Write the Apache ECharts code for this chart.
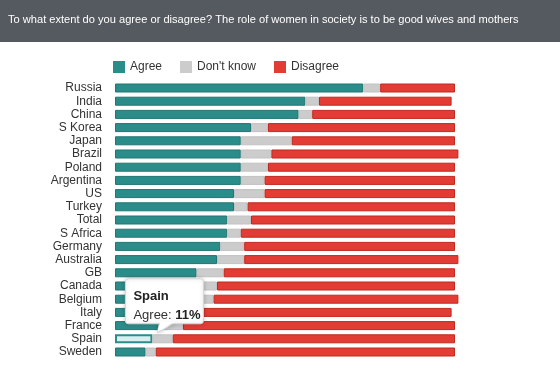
<!DOCTYPE html>
<html><head><meta charset="utf-8">
<script src="https://cdn.jsdelivr.net/npm/echarts@6/dist/echarts.min.js"></script>
<style>html,body{margin:0;padding:0;background:#fff}#c{width:560px;height:376px}</style>
</head><body><div id="c"></div>
<script>
var titleText = 'To what extent do you agree or disagree? The role of women in society is to be good wives and mothers';
var countries = ['Russia','India','China','S Korea','Japan','Brazil','Poland','Argentina','US','Turkey','Total','S Africa','Germany','Australia','GB','Canada','Belgium','Italy','France','Spain','Sweden'];
var agree    = [73,56,54,40,37,37,37,37,35,35,33,33,31,30,24,21,21,19,13,11,9];
var dontKnow = [5,4,4,5,15,9,8,7,9,4,7,4,7,8,8,9,8,7,7,6,3];
var disagree = [22,39,42,55,48,55,55,56,56,61,60,63,62,63,68,70,72,73,80,83,88];
var highlighted = 'Spain';

var teal = '#2b8d8a', gray = '#cccccc', red = '#e23c35';
var FONT = '"Liberation Sans", Arial, sans-serif';
var chart = echarts.init(document.getElementById('c'));
var agreeData = agree.map(function(v, i){
  if (countries[i] === highlighted) {
    return {value: v, itemStyle: {color: '#d9efef', borderColor: teal, borderWidth: 2}};
  }
  return v;
});
function ser(name, data, color, border) {
  return {
    name: name, type: 'bar', stack: 'all', data: data, barWidth: 9, clip: false,
    itemStyle: {color: color, borderColor: border, borderWidth: 1},
    emphasis: {disabled: true}
  };
}
var baseGraphic = [{
  type: 'rect', left: 0, top: 0, shape: {width: 560, height: 42},
  style: {fill: '#555a60'}, z: 0
}, {
  type: 'text', left: 8, top: 14,
  style: {text: titleText, fill: '#ffffff', font: '11.1px ' + FONT}
}];
chart.setOption({
  animation: false,
  graphic: baseGraphic,
  legend: {
    left: 113, top: 61, padding: 0, itemWidth: 12, itemHeight: 12, itemGap: 18,
    icon: 'rect',
    itemStyle: {borderWidth: 0},
    textStyle: {color: '#333', fontSize: 12, fontFamily: FONT},
    data: ['Agree', "Don't know", 'Disagree']
  },
  grid: {left: 115, right: 105, top: 81.4, bottom: 17.4, containLabel: false},
  xAxis: {type: 'value', min: 0, max: 100, show: false},
  yAxis: {
    type: 'category', data: countries, inverse: true,
    axisLine: {show: false}, axisTick: {show: false},
    axisLabel: {color: '#333', fontSize: 12, margin: 13, interval: 0, fontFamily: FONT}
  },
  series: [
    ser('Agree', agreeData, teal, '#217572'),
    ser("Don't know", dontKnow, gray, '#c2c2c2'),
    ser('Disagree', disagree, red, '#c0291f')
  ]
});

// tooltip-like callout for the highlighted bar
var hi = countries.indexOf(highlighted);
var p = chart.convertToPixel({gridIndex: 0}, [agree[hi], hi]);
var bx = p[0] - 27, by = p[1] - 60;
chart.setOption({
  graphic: baseGraphic.concat([{
    type: 'polygon', z: 100,
    shape: {points: [[bx + 34, by + 44], [p[0] + 5, p[1] - 6], [bx + 50, by + 44]]},
    style: {fill: '#fff', stroke: '#d6d6d6', lineWidth: 1, shadowBlur: 4, shadowColor: 'rgba(0,0,0,0.2)'}
  }, {
    type: 'rect', z: 101,
    shape: {x: bx, y: by, width: 78, height: 45, r: 3},
    style: {fill: '#fff', stroke: '#d6d6d6', lineWidth: 1, shadowBlur: 4, shadowColor: 'rgba(0,0,0,0.2)'}
  }, {
    type: 'polygon', z: 102,
    shape: {points: [[bx + 35, by + 43], [p[0] + 5, p[1] - 7], [bx + 49, by + 43]]},
    style: {fill: '#fff'}
  }, {
    type: 'text', z: 103, x: bx + 8, y: by + 8,
    style: {
      text: '{b|' + highlighted + '}\n{n|Agree: }{b|' + agree[hi] + '%}',
      lineHeight: 19,
      rich: {
        b: {fontWeight: 'bold', fontSize: 13, fill: '#222', fontFamily: FONT},
        n: {fontSize: 13, fill: '#333', fontFamily: FONT}
      }
    }
  }])
});
</script>
</body></html>
